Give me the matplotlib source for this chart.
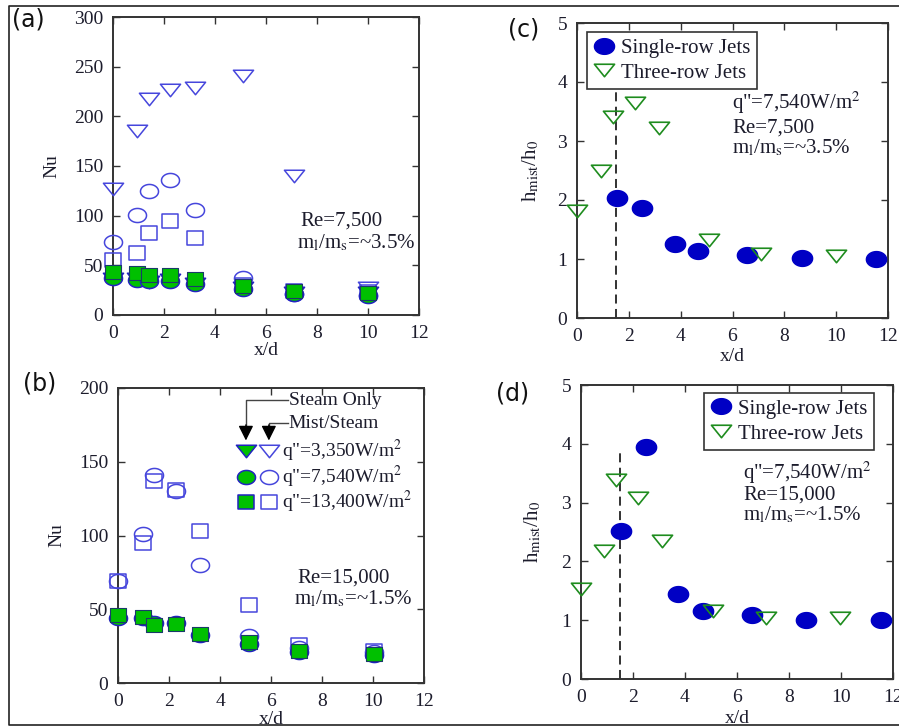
import numpy as np
import matplotlib
matplotlib.use("Agg")
import matplotlib.pyplot as plt
from matplotlib.path import Path
from matplotlib.lines import Line2D

plt.rcParams['font.family'] = ['Liberation Serif', 'DejaVu Serif']
plt.rcParams['mathtext.fontset'] = 'stix'

# ---------------- data ----------------
# panel (a): Re=7,500
a_x = [0, 0.95, 1.4, 2.25, 3.2, 5.1, 7.1, 10.0]
a_mist_tri = [127, 185, 217, 227, 229, 241, 140, 27]
a_mist_cir = [73, 101, 125, 136, 106, 37, 21, 20]
a_mist_sq = [55, 62, 83, 95, 78, 30, 24, 23]
a_steam_tri = [36, 36, 33, 35, 31, 27, 22, 22]
a_steam_cir = [37, 35, 34, 34, 31, 26, 21, 19]
a_steam_sq = [43, 42, 40, 40, 36, 29, 24, 22]

# panel (b): Re=15,000
b_x = [0, 0.98, 1.43, 2.28, 3.23, 5.12, 7.1, 10.05]
b_mist_cir = [69, 101, 141, 130, 80, 32, 24, 21]
b_mist_sq = [69, 95, 137, 131, 103, 53, 26, 22]
b_steam_cir = [44, 44, 40.5, 40.5, 32.5, 26.5, 21, 19]
b_steam_sq = [46, 44.5, 39, 40, 33, 27.5, 21.5, 20]

# panel (c)
c_single_x = [1.55, 2.52, 3.77, 4.68, 6.57, 8.69, 11.55]
c_single_y = [2.03, 1.87, 1.26, 1.14, 1.06, 1.02, 1.0]
c_three_x = [0, 0.94, 1.39, 2.22, 3.16, 5.09, 7.1, 9.98]
c_three_y = [1.81, 2.49, 3.41, 3.64, 3.22, 1.33, 1.08, 1.05]

# panel (d)
d_single_x = [1.52, 2.49, 3.74, 4.68, 6.57, 8.67, 11.55]
d_single_y = [2.52, 3.95, 1.44, 1.15, 1.09, 1.0, 1.0]
d_three_x = [0, 0.89, 1.33, 2.2, 3.13, 5.06, 7.1, 9.96]
d_three_y = [1.53, 2.18, 3.38, 3.08, 2.34, 1.16, 1.03, 1.03]

jet_line_x = 1.5
jet_line_top = 3.93

x_ticks = [0, 2, 4, 6, 8, 10, 12]

# ---------------- marker shapes (slightly wide, as in the figure) ----------------
t = np.linspace(0, 2 * np.pi, 60)
ELL = Path(np.column_stack([np.cos(t), 0.78 * np.sin(t)]), closed=True)
TRI = Path([(-1, 0.62), (1, 0.62), (0, -0.62), (-1, 0.62)], closed=True)
SQ = Path([(-1, -0.87), (1, -0.87), (1, 0.87), (-1, 0.87), (-1, -0.87)], closed=True)

OPEN_BLUE = '#4646dc'
GREEN = '#00c000'
EDGE_BLUE = '#2222c0'
DARK_BLUE = '#0000c4'
TRI_GREEN = '#1e8c1e'
TXT = '#1c1c2c'

W, H = 899, 727
fig = plt.figure(figsize=(W / 100, H / 100), dpi=100)


def ax_px(l, t_, r, b):
    return fig.add_axes([l / W, 1 - b / H, (r - l) / W, (b - t_) / H])


def style(ax, ylim, yticks):
    ax.set_xlim(0, 12)
    ax.set_ylim(*ylim)
    ax.set_xticks(x_ticks)
    ax.set_yticks(yticks)
    ax.tick_params(direction='in', top=True, right=True, length=5, width=1,
                   labelsize=14, colors='#333333', labelcolor=TXT, pad=7)
    for s in ax.spines.values():
        s.set_color('#333333')
        s.set_linewidth(1.4)


def pts(ax, x, y, marker, size, fc, ec, lw=1.1, z=3):
    ax.plot(x, y, linestyle='none', marker=marker, markersize=size,
            markerfacecolor=fc, markeredgecolor=ec, markeredgewidth=lw,
            clip_on=False, zorder=z)


# ---------------- panel (a) ----------------
axa = ax_px(113, 17, 419, 315)
style(axa, (0, 300), [0, 50, 100, 150, 200, 250, 300])
pts(axa, a_x, a_mist_tri, TRI, 14.5, 'none', OPEN_BLUE)
pts(axa, a_x, a_mist_cir, ELL, 13, 'none', OPEN_BLUE)
pts(axa, a_x, a_mist_sq, SQ, 11, 'none', OPEN_BLUE)
pts(axa, a_x, a_steam_tri, TRI, 14.5, GREEN, EDGE_BLUE, z=4)
pts(axa, a_x, a_steam_cir, ELL, 13, GREEN, EDGE_BLUE, z=5)
pts(axa, a_x, a_steam_sq, SQ, 11, GREEN, '#1a3a6a', lw=0.8, z=6)
axa.set_xlabel('x/d', fontsize=14, color=TXT)
axa.xaxis.set_label_coords(0.5, -0.09)
axa.set_ylabel('Nu', fontsize=14, color=TXT)
axa.yaxis.set_label_coords(-0.173, 0.5)
axa.text(0.611, 0.315, 'Re=7,500', transform=axa.transAxes, fontsize=15,
         color=TXT, va='center', ha='left')
axa.text(0.600, 0.242, r'm$_\mathrm{l}$/m$_\mathrm{s}$=~3.5%', transform=axa.transAxes,
         fontsize=15, color=TXT, va='center', ha='left')

# ---------------- panel (b) ----------------
axb = ax_px(118, 388, 424, 683)
style(axb, (0, 200), [0, 50, 100, 150, 200])
pts(axb, b_x, b_mist_cir, ELL, 13, 'none', OPEN_BLUE)
pts(axb, b_x, b_mist_sq, SQ, 11, 'none', OPEN_BLUE)
pts(axb, b_x, b_steam_cir, ELL, 13, GREEN, EDGE_BLUE, z=5)
pts(axb, b_x, b_steam_sq, SQ, 11, GREEN, '#1a3a6a', lw=0.8, z=6)
axb.set_xlabel('x/d', fontsize=14, color=TXT)
axb.xaxis.set_label_coords(0.5, -0.095)
axb.set_ylabel('Nu', fontsize=14, color=TXT)
axb.yaxis.set_label_coords(-0.173, 0.5)
axb.text(0.585, 0.356, 'Re=15,000', transform=axb.transAxes, fontsize=15,
         color=TXT, va='center', ha='left')
axb.text(0.575, 0.285, r'm$_\mathrm{l}$/m$_\mathrm{s}$=~1.5%', transform=axb.transAxes,
         fontsize=15, color=TXT, va='center', ha='left')

# hand-made legend of panel (b)
tr = axb.transAxes
x_fill, x_open, x_txt = 0.418, 0.493, 0.537
rows = [(0.786, TRI, 14.5, 'q"=3,350W/m$^2$'),
        (0.698, ELL, 13, 'q"=7,540W/m$^2$'),
        (0.614, SQ, 11, 'q"=13,400W/m$^2$')]
for yy, mk, ms, lab in rows:
    axb.plot([x_fill], [yy], transform=tr, marker=mk, markersize=ms, linestyle='none',
             markerfacecolor=GREEN, markeredgecolor=EDGE_BLUE, markeredgewidth=1.1,
             clip_on=False, zorder=7)
    axb.plot([x_open], [yy], transform=tr, marker=mk, markersize=ms, linestyle='none',
             markerfacecolor='none', markeredgecolor=OPEN_BLUE, markeredgewidth=1.1,
             clip_on=False, zorder=7)
    axb.text(x_txt, yy, lab, transform=tr, fontsize=14, color=TXT, va='center', ha='left')

axb.text(0.558, 0.959, 'Steam Only', transform=tr, fontsize=14, color=TXT,
         va='center', ha='left')
axb.text(0.558, 0.880, 'Mist/Steam', transform=tr, fontsize=14, color=TXT,
         va='center', ha='left')
axb.plot([0.556, x_fill, x_fill], [0.959, 0.959, 0.86], transform=tr, color='#444444',
         lw=1.0, clip_on=False)
axb.plot([0.556, x_open, x_open], [0.880, 0.880, 0.86], transform=tr, color='#444444',
         lw=1.0, clip_on=False)
for xx in (x_fill, x_open):
    axb.annotate('', xy=(xx, 0.822), xytext=(xx, 0.875), xycoords=tr, textcoords=tr,
                 arrowprops=dict(arrowstyle='-|>,head_width=0.45,head_length=0.9',
                                 color='black', lw=1.0, shrinkA=0, shrinkB=0))

# ---------------- panels (c), (d) ----------------
def ratio_panel(ax, sx, sy, tx, ty, lines, legend_anchor, lx, ly, xl_y, yl_x):
    style(ax, (0, 5), [0, 1, 2, 3, 4, 5])
    ax.plot([jet_line_x, jet_line_x], [0, jet_line_top], color='#222222', lw=1.3,
            linestyle=(0, (5, 3)), zorder=2)
    pts(ax, sx, sy, ELL, 14.5, DARK_BLUE, DARK_BLUE, z=4)
    pts(ax, tx, ty, TRI, 14.5, 'none', TRI_GREEN, lw=1.2, z=5)
    h1 = Line2D([], [], linestyle='none', marker=ELL, markersize=14.5,
                markerfacecolor=DARK_BLUE, markeredgecolor=DARK_BLUE)
    h2 = Line2D([], [], linestyle='none', marker=TRI, markersize=14.5,
                markerfacecolor='none', markeredgecolor=TRI_GREEN, markeredgewidth=1.2)
    leg = ax.legend([h1, h2], ['Single-row Jets', 'Three-row Jets'], loc='upper left',
                    bbox_to_anchor=legend_anchor, borderaxespad=0, fontsize=15,
                    frameon=True, fancybox=False, framealpha=1, edgecolor='#333333',
                    handlelength=1.0, handletextpad=0.35, borderpad=0.3,
                    labelspacing=0.25)
    leg.get_frame().set_linewidth(1.2)
    for t_ in leg.get_texts():
        t_.set_color(TXT)
    for i, s in enumerate(lines):
        ax.text(lx, ly[i], s, transform=ax.transAxes, fontsize=15, color=TXT,
                va='center', ha='left')
    ax.set_xlabel('x/d', fontsize=14, color=TXT)
    ax.xaxis.set_label_coords(0.5, xl_y)
    ax.set_ylabel(r'h$_\mathrm{mist}$/h$_0$', fontsize=15, color=TXT)
    ax.yaxis.set_label_coords(yl_x, 0.5)


axc = ax_px(577, 23, 888, 318)
ratio_panel(axc, c_single_x, c_single_y, c_three_x, c_three_y,
            ['q"=7,540W/m$^2$', 'Re=7,500', r'm$_\mathrm{l}$/m$_\mathrm{s}$=~3.5%'],
            (0.032, 0.969), 0.50, [0.729, 0.644, 0.576], -0.102, -0.116)

axd = ax_px(581, 385, 893, 679)
ratio_panel(axd, d_single_x, d_single_y, d_three_x, d_three_y,
            ['q"=7,540W/m$^2$', 'Re=15,000', r'm$_\mathrm{l}$/m$_\mathrm{s}$=~1.5%'],
            (0.394, 0.973), 0.52, [0.70, 0.626, 0.558], -0.105, -0.122)

# ---------------- panel labels and frame ----------------
for lab, (px, py) in {'(a)': (28, 20), '(b)': (40, 383), '(c)': (524, 29),
                      '(d)': (513, 393)}.items():
    fig.text(px / W, 1 - py / H, lab, family='DejaVu Sans', fontsize=17,
             color='#111111', ha='center', va='center')

frame = Line2D([899 / W, 9 / W, 9 / W, 899 / W], [1 - 6 / H, 1 - 6 / H, 1 - 725 / H, 1 - 725 / H],
               transform=fig.transFigure, color='#222222', lw=1.2)
fig.add_artist(frame)

fig.savefig('out.png', dpi=100)
